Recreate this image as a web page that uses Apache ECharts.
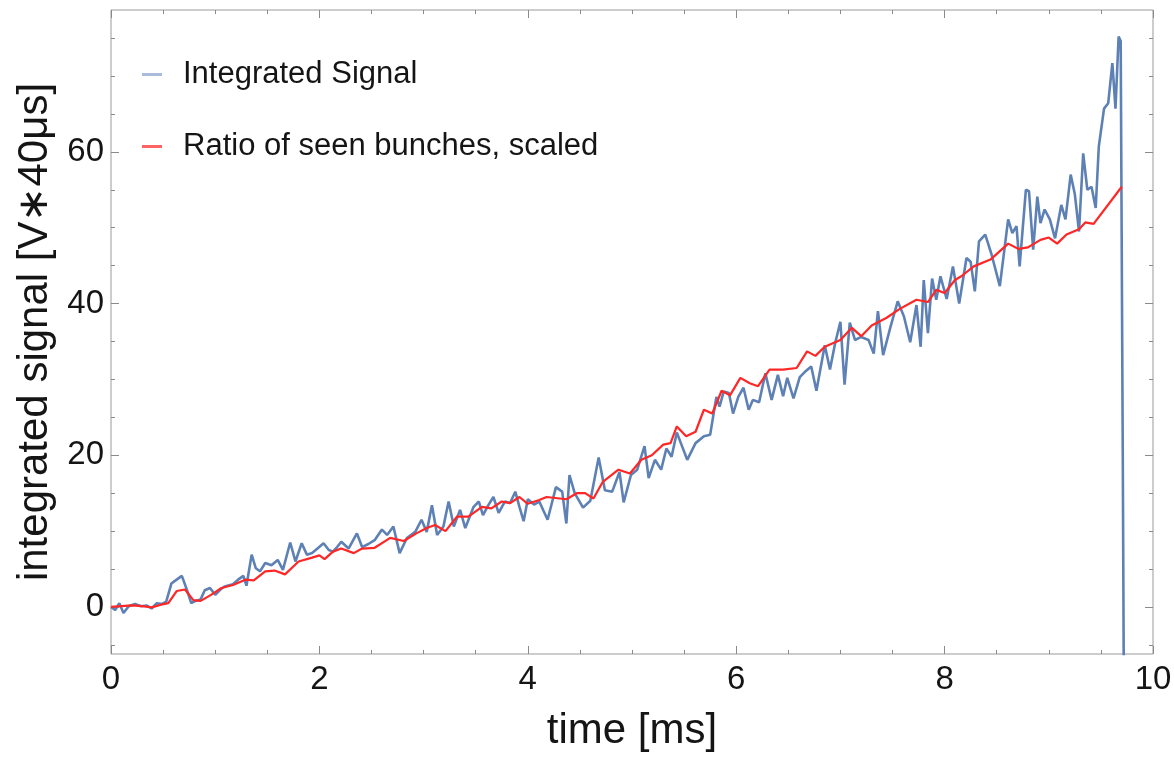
<!DOCTYPE html>
<html>
<head>
<meta charset="utf-8">
<script src="https://cdn.jsdelivr.net/npm/echarts@6/dist/echarts.min.js"></script>
<style>
  html, body { margin: 0; padding: 0; background: #fff; }
  #chart { width: 1174px; height: 757px; }
</style>
</head>
<body>
<div id="chart"></div>
<script>
// Integrated signal per 40 µs bin, time in ms
const sigTime = [
  0.00, 0.04, 0.08, 0.12, 0.17, 0.23, 0.29, 0.34, 0.39, 0.44, 0.49, 0.53, 0.58, 0.63, 0.68, 0.73, 0.77, 0.81, 0.86, 0.90,
  0.95, 1.00, 1.05, 1.09, 1.17, 1.22, 1.27, 1.30, 1.35, 1.39, 1.43, 1.48, 1.54, 1.60, 1.65, 1.72, 1.77, 1.83, 1.88, 1.93,
  1.99, 2.04, 2.09, 2.13, 2.17, 2.21, 2.28, 2.36, 2.41, 2.47, 2.53, 2.60, 2.65, 2.71, 2.77, 2.84, 2.92, 2.98, 3.03, 3.08,
  3.13, 3.19, 3.24, 3.29, 3.35, 3.40, 3.48, 3.53, 3.57, 3.62, 3.67, 3.72, 3.78, 3.83, 3.88, 3.92, 3.96, 4.00, 4.06, 4.11,
  4.19, 4.27, 4.33, 4.37, 4.40, 4.45, 4.53, 4.60, 4.68, 4.74, 4.81, 4.88, 4.92, 4.99, 5.05, 5.12, 5.16, 5.22, 5.28, 5.33,
  5.38, 5.43, 5.48, 5.53, 5.61, 5.69, 5.75, 5.81, 5.84, 5.88, 5.93, 5.97, 6.02, 6.07, 6.12, 6.16, 6.22, 6.28, 6.34, 6.40,
  6.45, 6.49, 6.55, 6.61, 6.66, 6.72, 6.77, 6.85, 6.90, 6.95, 7.00, 7.04, 7.09, 7.14, 7.20, 7.27, 7.32, 7.36, 7.41, 7.48,
  7.55, 7.61, 7.67, 7.73, 7.77, 7.80, 7.84, 7.88, 7.92, 7.96, 8.02, 8.08, 8.14, 8.21, 8.25, 8.29, 8.33, 8.39, 8.45, 8.53,
  8.61, 8.65, 8.69, 8.72, 8.78, 8.81, 8.85, 8.89, 8.92, 8.96, 9.01, 9.06, 9.12, 9.16, 9.21, 9.25, 9.29, 9.33, 9.37, 9.41,
  9.45, 9.48, 9.53, 9.57, 9.61, 9.64, 9.67, 9.69, 9.71, 9.73
];
const sigValue = [
  0.0, -0.4, 0.5, -0.8, 0.1, 0.4, 0.1, 0.2, -0.2, 0.5, 0.4, 0.7, 3.1, 3.6, 4.1, 2.2, 0.5, 0.8, 1.0, 2.2,
  2.5, 1.6, 2.3, 2.7, 3.0, 3.6, 4.1, 2.8, 6.9, 5.1, 4.7, 5.8, 5.5, 6.2, 4.9, 8.5, 6.0, 8.4, 6.9, 7.1,
  7.8, 8.4, 7.5, 7.3, 7.9, 8.6, 7.7, 9.7, 7.9, 8.3, 8.8, 10.2, 9.5, 10.6, 7.1, 9.1, 9.9, 11.5, 9.9, 13.4,
  9.5, 10.6, 13.9, 10.6, 12.8, 10.4, 13.2, 13.9, 12.1, 13.4, 14.5, 12.4, 13.9, 13.7, 15.2, 13.2, 11.3, 14.2, 13.5, 13.9,
  11.5, 15.8, 15.2, 11.0, 17.4, 15.0, 13.1, 14.0, 19.7, 15.4, 15.2, 17.8, 13.8, 17.4, 18.1, 21.2, 17.0, 19.4, 18.1, 20.9,
  19.8, 23.0, 21.2, 19.4, 21.6, 22.5, 22.7, 27.7, 26.4, 28.4, 28.2, 25.5, 27.7, 28.9, 26.0, 27.3, 27.0, 30.8, 27.3, 30.6,
  27.8, 30.2, 27.5, 30.3, 31.0, 31.7, 28.5, 34.5, 31.3, 34.8, 37.6, 29.3, 37.5, 35.2, 35.6, 35.2, 33.4, 39.0, 33.2, 36.9,
  40.3, 38.3, 34.9, 39.8, 34.3, 43.1, 36.1, 43.3, 40.5, 43.6, 40.6, 44.9, 40.0, 46.0, 45.5, 41.6, 48.2, 49.1, 46.5, 42.3,
  51.1, 49.3, 50.2, 44.9, 55.0, 54.8, 47.1, 54.1, 50.6, 52.4, 51.1, 48.6, 53.0, 51.1, 57.0, 54.4, 49.5, 59.8, 55.0, 55.4,
  52.6, 60.7, 65.7, 66.4, 71.7, 65.7, 75.2, 74.6, 20.0, -40.0
];

// Ratio of seen bunches, scaled to the signal
const ratioTime = [
  0.00, 0.10, 0.20, 0.30, 0.39, 0.48, 0.55, 0.63, 0.71, 0.79, 0.86, 0.96, 1.06, 1.17, 1.29, 1.37, 1.48, 1.57, 1.67, 1.80,
  1.93, 2.00, 2.05, 2.13, 2.21, 2.33, 2.41, 2.53, 2.68, 2.81, 2.93, 3.03, 3.11, 3.21, 3.32, 3.43, 3.56, 3.65, 3.75, 3.83,
  3.92, 4.00, 4.11, 4.18, 4.37, 4.47, 4.55, 4.63, 4.72, 4.87, 4.98, 5.09, 5.19, 5.30, 5.37, 5.43, 5.52, 5.61, 5.69, 5.77,
  5.86, 5.94, 6.04, 6.13, 6.21, 6.32, 6.45, 6.58, 6.68, 6.76, 6.85, 7.00, 7.11, 7.20, 7.30, 7.44, 7.57, 7.73, 7.84, 7.92,
  8.00, 8.10, 8.16, 8.28, 8.44, 8.61, 8.71, 8.80, 8.92, 9.00, 9.08, 9.17, 9.29, 9.35, 9.43, 9.70
];
const ratioValue = [
  0.0, 0.1, 0.2, 0.1, -0.05, 0.3, 0.5, 2.1, 2.3, 0.9, 0.8, 1.6, 2.5, 2.9, 3.6, 3.5, 4.7, 4.8, 4.3, 6.0,
  6.5, 6.8, 6.3, 7.3, 7.7, 7.1, 7.7, 7.8, 9.1, 8.7, 9.7, 10.4, 10.8, 10.0, 11.9, 11.9, 13.2, 13.0, 13.9, 13.7,
  14.5, 13.6, 14.1, 14.5, 14.2, 15.0, 15.0, 14.3, 16.5, 18.1, 17.6, 19.4, 20.0, 21.4, 21.6, 23.8, 22.5, 23.1, 26.0, 25.5,
  28.5, 27.9, 30.2, 29.5, 29.1, 31.3, 31.3, 31.5, 33.7, 33.1, 34.3, 35.2, 36.8, 35.7, 37.1, 38.1, 39.3, 40.5, 40.2, 41.8,
  41.4, 43.1, 43.6, 44.9, 45.8, 47.9, 47.2, 47.4, 48.4, 48.7, 47.9, 49.1, 49.8, 50.7, 50.5, 55.4
];

// Axis ranges and tick positions
const xRange = [0, 10];
const yRange = [-6.2, 78.7];
const yMajorTicks = [0, 20, 40, 60];
const yMinorTicks = [-5, 5, 10, 15, 25, 30, 35, 45, 50, 55, 65, 70, 75];

const seriesNames = ['Integrated Signal', 'Ratio of seen bunches, scaled'];

const FONT = "'Liberation Sans', Arial, Helvetica, sans-serif";
const TICK_COLOR = '#8a8a8a';

const pairs = (ts, vs) => ts.map((t, i) => [t, vs[i]]);

const xAxisBase = (position, showLabels) => ({
  type: 'value',
  position: position,
  min: xRange[0],
  max: xRange[1],
  interval: 2,
  axisLine: { show: false, onZero: false },
  axisTick: { show: true, inside: true, length: 8, lineStyle: { color: TICK_COLOR, width: 1 } },
  minorTick: { show: true, splitNumber: 4, length: 4, lineStyle: { color: TICK_COLOR, width: 1 } },
  splitLine: { show: false },
  axisLabel: { show: showLabels, fontSize: 33, color: '#151515', fontFamily: FONT, margin: 9 }
});

const yAxisBase = (position, ticks, len, showLabels) => ({
  type: 'value',
  position: position,
  min: yRange[0],
  max: yRange[1],
  axisLine: { show: false, onZero: false },
  axisTick: { show: true, inside: true, length: len, customValues: ticks, lineStyle: { color: TICK_COLOR, width: 1 } },
  splitLine: { show: false },
  axisLabel: showLabels
    ? { show: true, customValues: ticks, fontSize: 33, color: '#151515', fontFamily: FONT, margin: 7 }
    : { show: false }
});

const chart = echarts.init(document.getElementById('chart'), null, { renderer: 'canvas' });

const xMain = xAxisBase('bottom', true);
xMain.name = 'time [ms]';
xMain.nameLocation = 'middle';
xMain.nameGap = 56;
xMain.nameTextStyle = { fontSize: 42, color: '#151515', fontFamily: FONT };

const yMain = yAxisBase('left', yMajorTicks, 8, true);
yMain.name = 'integrated signal [V∗40μs]';
yMain.nameLocation = 'middle';
yMain.nameGap = 50;
yMain.nameTextStyle = { fontSize: 42, color: '#151515', fontFamily: FONT };

chart.setOption({
  animation: false,
  backgroundColor: '#ffffff',
  grid: {
    left: 111, right: 21, top: 10, bottom: 103,
    show: true,
    borderColor: '#9a9a9a',
    borderWidth: 1,
    backgroundColor: 'transparent',
    containLabel: false,
    outerBoundsMode: 'none'
  },
  legend: {
    orient: 'vertical',
    left: 137,
    top: 54,
    itemGap: 41,
    itemWidth: 20,
    itemHeight: 3,
    selectedMode: false,
    textStyle: { fontSize: 31, color: '#151515', fontFamily: FONT, padding: [0, 0, 0, 16] },
    data: [
      { name: seriesNames[0], icon: 'rect', itemStyle: { color: '#a9bcdb' } },
      { name: seriesNames[1], icon: 'rect', itemStyle: { color: '#ff6464' } }
    ]
  },
  xAxis: [xMain, xAxisBase('top', false)],
  yAxis: [
    yMain,
    yAxisBase('left', yMinorTicks, 4, false),
    yAxisBase('right', yMajorTicks, 8, false),
    yAxisBase('right', yMinorTicks, 4, false)
  ],
  series: [
    {
      name: seriesNames[0],
      type: 'line',
      xAxisIndex: 0,
      yAxisIndex: 0,
      data: pairs(sigTime, sigValue),
      showSymbol: false,
      symbol: 'none',
      clip: true,
      lineStyle: { color: '#5e81b5', width: 2.6 },
      itemStyle: { color: '#5e81b5' },
      z: 2
    },
    {
      name: seriesNames[1],
      type: 'line',
      xAxisIndex: 0,
      yAxisIndex: 0,
      data: pairs(ratioTime, ratioValue),
      showSymbol: false,
      symbol: 'none',
      clip: true,
      lineStyle: { color: '#ff2626', width: 2.2 },
      itemStyle: { color: '#ff2626' },
      z: 3
    }
  ]
});
</script>
</body>
</html>
